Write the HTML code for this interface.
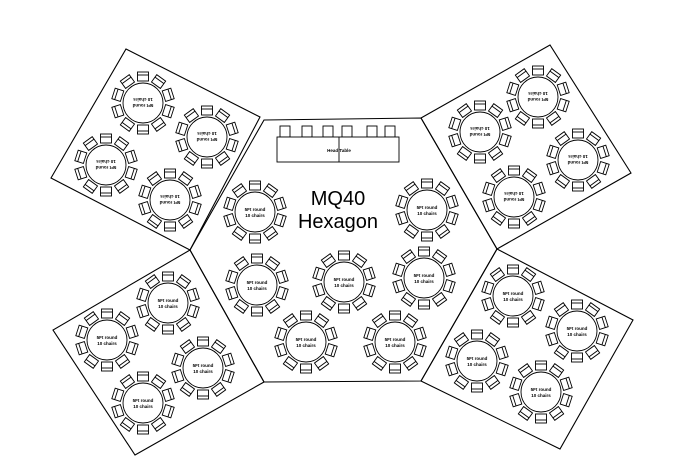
<!DOCTYPE html>
<html><head><meta charset="utf-8"><style>
html,body{margin:0;padding:0;background:#fff;width:700px;height:476px;overflow:hidden}
svg{display:block}
text{font-family:"Liberation Sans",sans-serif;fill:#000}
.t{font-size:4.5px;font-weight:bold;text-anchor:middle}
</style></head><body>
<svg width="700" height="476" viewBox="0 0 700 476" xmlns="http://www.w3.org/2000/svg">
<defs>
<g id="tb" fill="#fff" stroke="#000" stroke-width="0.9">
<g id="ch"><rect x="-5.5" y="-31" width="11" height="9"/><line x1="-5.5" y1="-28" x2="5.5" y2="-28"/></g>
<use href="#ch" transform="rotate(36)"/><use href="#ch" transform="rotate(72)"/><use href="#ch" transform="rotate(108)"/><use href="#ch" transform="rotate(144)"/><use href="#ch" transform="rotate(180)"/><use href="#ch" transform="rotate(216)"/><use href="#ch" transform="rotate(252)"/><use href="#ch" transform="rotate(288)"/><use href="#ch" transform="rotate(324)"/>
<circle r="20"/>
</g>
</defs>
<g fill="none" stroke="#000" stroke-width="1.1">
<polygon points="264,120 421,118 497,249 421,381 264,382 190,250"/>
<polygon points="126,49 260,117 190,250 51,178"/>
<polygon points="421,118 550,45 631,173 497,249"/>
<polygon points="190,250 264,382 135,455 53,330"/>
<polygon points="497,249 633,320 560,449 421,381"/>
</g>
<g fill="#fff" stroke="#000" stroke-width="0.9">
<rect x="280" y="126" width="10" height="11"/><rect x="302" y="126" width="10" height="11"/><rect x="323" y="126" width="10" height="11"/><rect x="342" y="126" width="10" height="11"/><rect x="367" y="126" width="10" height="11"/><rect x="385" y="126" width="10" height="11"/>
<rect x="277" y="137" width="122" height="25"/>
<line x1="339" y1="137" x2="339" y2="162"/>
</g>
<text x="339" y="152" class="t">Head Table</text>
<text x="338" y="205" font-size="20" text-anchor="middle">MQ40</text>
<text x="338" y="228" font-size="20" text-anchor="middle">Hexagon</text>
<g>
<use href="#tb" x="255" y="212"/><use href="#tb" x="427" y="210"/>
<use href="#tb" x="257" y="285"/><use href="#tb" x="344" y="282"/><use href="#tb" x="424" y="278"/>
<use href="#tb" x="306" y="342"/><use href="#tb" x="395" y="342"/>
<use href="#tb" x="143" y="103"/><use href="#tb" x="207" y="137"/><use href="#tb" x="106" y="165"/><use href="#tb" x="170" y="200"/>
<use href="#tb" x="538" y="97"/><use href="#tb" x="480" y="132"/><use href="#tb" x="578" y="160"/><use href="#tb" x="514" y="197"/>
<use href="#tb" x="107" y="340"/><use href="#tb" x="168" y="303"/><use href="#tb" x="203" y="368"/><use href="#tb" x="143" y="403"/>
<use href="#tb" x="513" y="296"/><use href="#tb" x="577" y="331"/><use href="#tb" x="477" y="361"/><use href="#tb" x="541" y="392"/>
</g>
<g class="t">
<text x="255" y="211" class="t">5Ft round<tspan x="255" dy="6">10 chairs</tspan></text>
<text x="427" y="209" class="t">5Ft round<tspan x="427" dy="6">10 chairs</tspan></text>
<text x="257" y="284" class="t">5Ft round<tspan x="257" dy="6">10 chairs</tspan></text>
<text x="344" y="281" class="t">5Ft round<tspan x="344" dy="6">10 chairs</tspan></text>
<text x="424" y="277" class="t">5Ft round<tspan x="424" dy="6">10 chairs</tspan></text>
<text x="306" y="341" class="t">5Ft round<tspan x="306" dy="6">10 chairs</tspan></text>
<text x="395" y="341" class="t">5Ft round<tspan x="395" dy="6">10 chairs</tspan></text>
<text x="107" y="339" class="t">5Ft round<tspan x="107" dy="6">10 chairs</tspan></text>
<text x="168" y="302" class="t">5Ft round<tspan x="168" dy="6">10 chairs</tspan></text>
<text x="203" y="367" class="t">5Ft round<tspan x="203" dy="6">10 chairs</tspan></text>
<text x="143" y="402" class="t">5Ft round<tspan x="143" dy="6">10 chairs</tspan></text>
<text x="513" y="295" class="t">5Ft round<tspan x="513" dy="6">10 chairs</tspan></text>
<text x="577" y="330" class="t">5Ft round<tspan x="577" dy="6">10 chairs</tspan></text>
<text x="477" y="360" class="t">5Ft round<tspan x="477" dy="6">10 chairs</tspan></text>
<text x="541" y="391" class="t">5Ft round<tspan x="541" dy="6">10 chairs</tspan></text>
<text class="t" transform="translate(143,103) rotate(180)" y="-1">5Ft round<tspan x="0" dy="6">10 chairs</tspan></text>
<text class="t" transform="translate(207,137) rotate(180)" y="-1">5Ft round<tspan x="0" dy="6">10 chairs</tspan></text>
<text class="t" transform="translate(106,165) rotate(180)" y="-1">5Ft round<tspan x="0" dy="6">10 chairs</tspan></text>
<text class="t" transform="translate(170,200) rotate(180)" y="-1">5Ft round<tspan x="0" dy="6">10 chairs</tspan></text>
<text class="t" transform="translate(538,97) rotate(180)" y="-1">5Ft round<tspan x="0" dy="6">10 chairs</tspan></text>
<text class="t" transform="translate(480,132) rotate(180)" y="-1">5Ft round<tspan x="0" dy="6">10 chairs</tspan></text>
<text class="t" transform="translate(578,160) rotate(180)" y="-1">5Ft round<tspan x="0" dy="6">10 chairs</tspan></text>
<text class="t" transform="translate(514,197) rotate(180)" y="-1">5Ft round<tspan x="0" dy="6">10 chairs</tspan></text>
</g>
</svg>
</body></html>
